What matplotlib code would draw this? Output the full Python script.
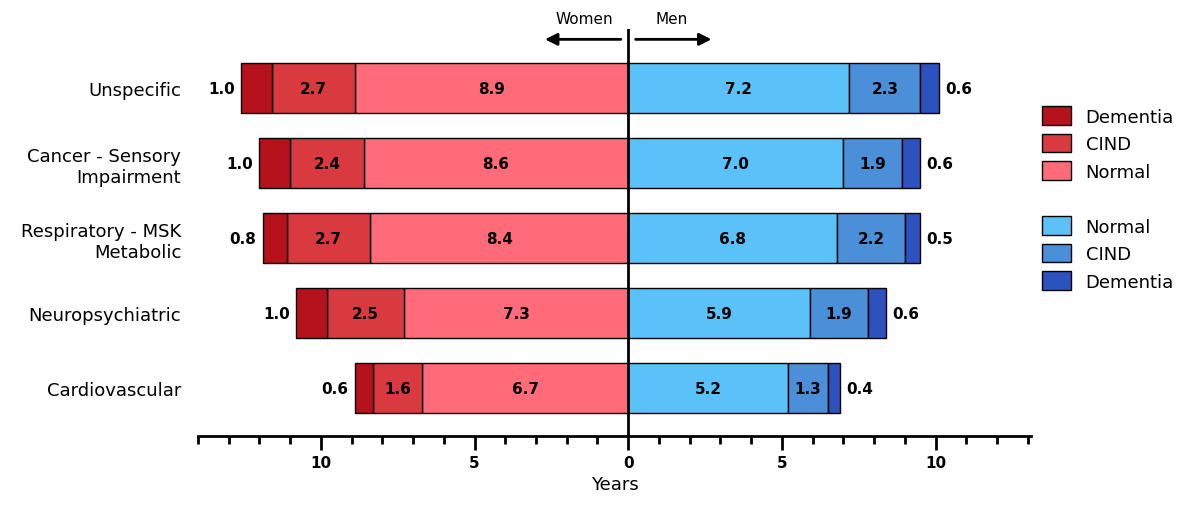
import numpy as np
import matplotlib.pyplot as plt
from matplotlib.patches import Patch

categories = ['Unspecific', 'Cancer - Sensory\nImpairment', 'Respiratory - MSK\nMetabolic',
              'Neuropsychiatric', 'Cardiovascular']
w_normal = [8.9, 8.6, 8.4, 7.3, 6.7]
w_cind = [2.7, 2.4, 2.7, 2.5, 1.6]
w_dem = [1.0, 1.0, 0.8, 1.0, 0.6]
m_normal = [7.2, 7.0, 6.8, 5.9, 5.2]
m_cind = [2.3, 1.9, 2.2, 1.9, 1.3]
m_dem = [0.6, 0.6, 0.5, 0.6, 0.4]

c_wd, c_wc, c_wn = '#B5121B', '#D93A3F', '#FF6B78'
c_mn, c_mc, c_md = '#5BC2F9', '#4A8FD8', '#2B52BE'

fig = plt.figure(figsize=(12, 5.06), dpi=100)
ax = fig.add_axes([0.165, 0.136, 0.694, 0.805])
y = np.arange(len(categories))
h = 0.66
kw = dict(height=h, edgecolor='black', linewidth=1)

wn = np.array(w_normal); wc = np.array(w_cind); wd = np.array(w_dem)
mn = np.array(m_normal); mc = np.array(m_cind); md = np.array(m_dem)
ax.barh(y, -wn, color=c_wn, **kw)
ax.barh(y, -wc, left=-wn, color=c_wc, **kw)
ax.barh(y, -wd, left=-wn - wc, color=c_wd, **kw)
ax.barh(y, mn, color=c_mn, **kw)
ax.barh(y, mc, left=mn, color=c_mc, **kw)
ax.barh(y, md, left=mn + mc, color=c_md, **kw)

tk = dict(ha='center', va='center', fontsize=11, fontweight='bold')
for i in range(len(y)):
    ax.text(-wn[i] / 2, y[i], f'{wn[i]:.1f}', **tk)
    ax.text(-wn[i] - wc[i] / 2, y[i], f'{wc[i]:.1f}', **tk)
    ax.text(-wn[i] - wc[i] - wd[i] - 0.2, y[i], f'{wd[i]:.1f}', ha='right', va='center',
            fontsize=11, fontweight='bold')
    ax.text(mn[i] / 2, y[i], f'{mn[i]:.1f}', **tk)
    ax.text(mn[i] + mc[i] / 2, y[i], f'{mc[i]:.1f}', **tk)
    ax.text(mn[i] + mc[i] + md[i] + 0.2, y[i], f'{md[i]:.1f}', ha='left', va='center',
            fontsize=11, fontweight='bold')

ax.set_xlim(-14, 13.1)
ax.set_ylim(4.64, -0.79)
ax.axvline(0, color='black', linewidth=2)
ax.set_yticks(y)
ax.set_yticklabels(categories, fontsize=13)
ax.tick_params(axis='y', length=0, pad=12)
ax.set_xticks([-10, -5, 0, 5, 10])
ax.set_xticklabels(['10', '5', '0', '5', '10'], fontsize=11, fontweight='bold')
ax.set_xticks(np.arange(-14, 14), minor=True)
ax.tick_params(axis='x', which='major', length=10, width=2)
ax.tick_params(axis='x', which='minor', length=6, width=2)
for s in ['top', 'right', 'left']:
    ax.spines[s].set_visible(False)
ax.spines['bottom'].set_linewidth(2)
ax.set_xlabel('Years', fontsize=13)

ax.annotate('', xy=(-2.8, -0.65), xytext=(-0.15, -0.65), annotation_clip=False,
            arrowprops=dict(arrowstyle='-|>', color='black', lw=2, mutation_scale=18))
ax.annotate('', xy=(2.8, -0.65), xytext=(0.15, -0.65), annotation_clip=False,
            arrowprops=dict(arrowstyle='-|>', color='black', lw=2, mutation_scale=18))
ax.text(-0.5, -0.93, 'Women', ha='right', va='center', fontsize=11)
ax.text(0.9, -0.93, 'Men', ha='left', va='center', fontsize=11)

handles = [Patch(facecolor=c_wd, edgecolor='black'), Patch(facecolor=c_wc, edgecolor='black'),
           Patch(facecolor=c_wn, edgecolor='black'), Patch(visible=False),
           Patch(facecolor=c_mn, edgecolor='black'), Patch(facecolor=c_mc, edgecolor='black'),
           Patch(facecolor=c_md, edgecolor='black')]
labels = ['Dementia', 'CIND', 'Normal', '', 'Normal', 'CIND', 'Dementia']
fig.legend(handles, labels, loc='upper left', bbox_to_anchor=(0.855, 0.82), frameon=False,
           fontsize=13, handlelength=1.6, handleheight=1.2, labelspacing=0.45)

fig.savefig('out.png', dpi=100)
